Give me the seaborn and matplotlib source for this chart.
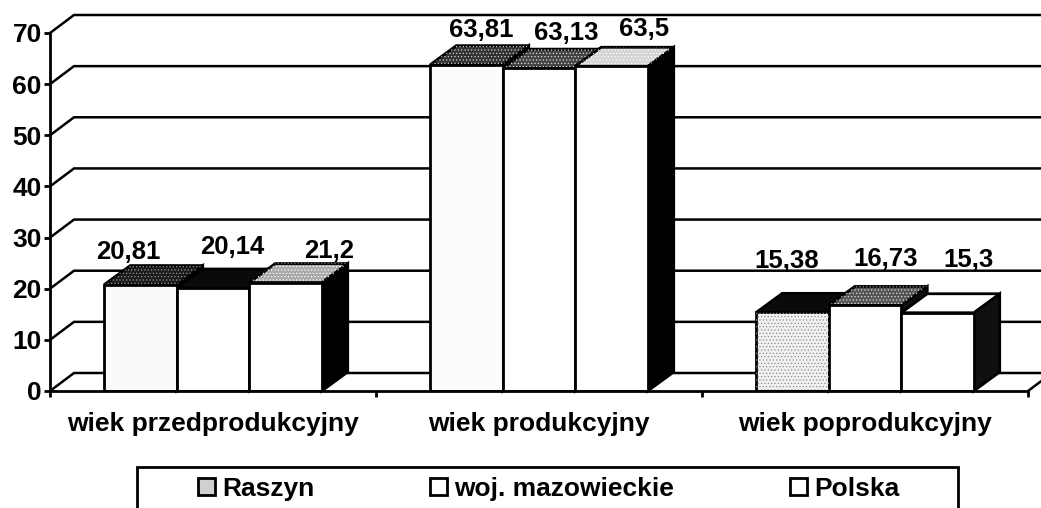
import matplotlib
matplotlib.use('Agg')
import matplotlib.pyplot as plt
from matplotlib.patches import Polygon, Rectangle
import pandas as pd
import seaborn as sns

categories = ['wiek przedprodukcyjny', 'wiek produkcyjny', 'wiek poprodukcyjny']
series = ['Raszyn', 'woj. mazowieckie', 'Polska']
raszyn = [20.81, 63.81, 15.38]
mazowieckie = [20.14, 63.13, 16.73]
polska = [21.2, 63.5, 15.3]
raszyn_labels = ['20,81', '63,81', '15,38']
mazowieckie_labels = ['20,14', '63,13', '16,73']
polska_labels = ['21,2', '63,5', '15,3']
y_ticks = [0, 10, 20, 30, 40, 50, 60, 70]

# label offset from bar centre / bar top, pixels, [series][category]
label_dx = [[-12, 15, -6], [19, 27, 21], [44, 33, 31]]
label_dy = [[33, 35, 51], [41, 35, 46], [32, 37, 53]]

# scanned shading of the 3d faces, [series][category]
front_colors = [['#fafafa', '#fcfcfc', '#f0f0f0'], ['white', 'white', 'white'], ['white', 'white', 'white']]
top_colors = [['#1c1c1c', '#333333', '#0a0a0a'], ['#0a0a0a', '#444444', '#555555'], ['#aaaaaa', '#d4d4d4', 'white']]
top_dots = [['#999999', '#cccccc', None], [None, '#dddddd', '#dddddd'], ['white', 'white', None]]
side_colors = ['black', 'black', '#101010']

# depth of the fake 3d in data units
wall_dx = 24 / 326
wall_dy = 18 / 5.114
bar_dx = 26 / 326
bar_dy = 19 / 5.114

df = pd.DataFrame({
    'kategoria': categories * 3,
    'seria': [s for s in series for _ in categories],
    'wartosc': raszyn + mazowieckie + polska,
})

sns.set_style('white')
plt.rcParams['font.family'] = ['Liberation Sans', 'DejaVu Sans']
plt.rcParams['font.weight'] = 'bold'
plt.rcParams['hatch.linewidth'] = 0.5

fig = plt.figure(figsize=(10.41, 5.08), dpi=100)
ax = fig.add_axes([50 / 1041, (508 - 391) / 508, 978 / 1041, 358 / 508])

sns.barplot(data=df, x='kategoria', y='wartosc', hue='seria', order=categories, hue_order=series,
            palette=['#d0d0d0', 'white', 'white'], width=0.667, gap=0, edgecolor='black',
            linewidth=2, zorder=3, ax=ax)

ax.set_xlim(-0.5, 2.5)
ax.set_ylim(0, 70)
ax.set_xlabel('')
ax.set_ylabel('')
ax.set_yticks(y_ticks)
sns.despine(ax=ax)
for s in ['left', 'bottom']:
    ax.spines[s].set_linewidth(2)
    ax.spines[s].set_color('black')
    ax.spines[s].set_zorder(4)

ax.set_xticks([-0.5, 0.5, 1.5, 2.5], minor=True)
ax.tick_params(axis='x', which='major', length=0, pad=15, labelsize=19, labelcolor='black')
ax.tick_params(axis='x', which='minor', bottom=True, length=4.5, width=2, color='black')
ax.tick_params(axis='y', left=True, length=4, width=2, pad=2, labelsize=19, color='black', labelcolor='black')

# back wall and the diagonals to it
for v in y_ticks:
    ax.plot([-0.5, -0.5 + wall_dx, 2.5 + wall_dx], [v, v + wall_dy, v + wall_dy], color='black', lw=1.8,
            clip_on=False, zorder=1, solid_joinstyle='miter')
ax.plot([2.5, 2.5 + wall_dx], [0, wall_dy], color='black', lw=1.8, clip_on=False, zorder=1)

all_labels = [raszyn_labels, mazowieckie_labels, polska_labels]

# depth faces, left to right so that the neighbour covers
for j in range(len(categories)):
    for i, cont in enumerate(ax.containers):
        bar = cont.patches[j]
        bar.set_facecolor(front_colors[i][j])
        x0 = bar.get_x()
        x1 = x0 + bar.get_width()
        h = bar.get_height()
        z = 2 + 0.01 * i
        top = [(x0, h), (x1, h), (x1 + bar_dx, h + bar_dy), (x0 + bar_dx, h + bar_dy)]
        side = [(x1, 0), (x1 + bar_dx, bar_dy), (x1 + bar_dx, h + bar_dy), (x1, h)]
        ax.add_patch(Polygon(side, closed=True, facecolor=side_colors[j], edgecolor='black', lw=2, zorder=z,
                             clip_on=False))
        ax.add_patch(Polygon(top, closed=True, facecolor=top_colors[i][j], edgecolor='black', lw=2, zorder=z,
                             clip_on=False))
        if top_dots[i][j] is not None:
            ax.add_patch(Polygon(top, closed=True, facecolor='none', edgecolor=top_dots[i][j], hatch='.....', lw=0,
                                 zorder=z, clip_on=False))
        ax.annotate(all_labels[i][j], xy=(x0 + bar.get_width() / 2, h),
                    xytext=(label_dx[i][j], label_dy[i][j]), textcoords='offset pixels', ha='center', va='center',
                    fontsize=18.5, fontweight='bold', color='black', annotation_clip=False, zorder=5)

# only the Raszyn bar of the last group has the dither left on its front
speckled = ax.containers[0].patches[2]
ax.add_patch(Rectangle((speckled.get_x(), 0), speckled.get_width(), speckled.get_height(), facecolor='none',
                       edgecolor='#8c8c8c', hatch='.....', lw=0, zorder=3.1))

# legend frame runs off the bottom of the scan
fig.add_artist(Rectangle((137 / 1041, -10 / 508), 821 / 1041, (508 - 467 + 10) / 508, transform=fig.transFigure,
                         facecolor='white', edgecolor='black', lw=2))
handles, labels = ax.get_legend_handles_labels()
ax.get_legend().remove()
leg = fig.legend(handles, labels, loc='upper left', bbox_to_anchor=(198 / 1041, (508 - 477) / 508), ncol=3,
                 frameon=False, borderpad=0, borderaxespad=0, fontsize=19, columnspacing=4.4, handlelength=0.64,
                 handleheight=0.64, handletextpad=0.27)
for t in leg.get_texts():
    t.set_color('black')

fig.savefig('out.png', dpi=100)
